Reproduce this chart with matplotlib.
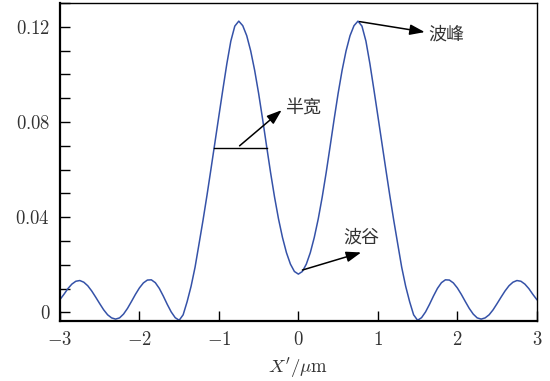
import numpy as np
import matplotlib.pyplot as plt
from matplotlib.ticker import MultipleLocator

plt.rcParams['mathtext.fontset'] = 'cm'
plt.rcParams['font.family'] = ['cmr10', 'DejaVu Serif']
plt.rcParams['axes.unicode_minus'] = False

# curve, x from -3 to 3 in steps of 0.05
x = np.linspace(-3, 3, 121)
y = [0.0054, 0.0076, 0.0100, 0.0119, 0.0131,
     0.0134, 0.0127, 0.0112, 0.0090, 0.0064, 0.0037, 0.0011, -0.0010, -0.0023,
     -0.0028, -0.0023, -0.0007, 0.0017, 0.0046, 0.0076, 0.0103, 0.0124, 0.0136,
     0.0137, 0.0125, 0.0101, 0.0069, 0.0034, 0.0002, -0.0022,
     -0.0033, -0.0010, 0.0045, 0.0110, 0.0190, 0.0288, 0.0387, 0.0492, 0.0602,
     0.0714, 0.0826, 0.0937, 0.1045, 0.1140, 0.1203,
     0.1224, 0.1205, 0.1163, 0.1099, 0.1017, 0.0920, 0.0812, 0.0699, 0.0588,
     0.0485, 0.0393, 0.0315, 0.0251, 0.0203, 0.0172,
     0.0161,
     0.0172, 0.0203, 0.0251, 0.0315, 0.0393, 0.0485, 0.0588, 0.0699, 0.0812,
     0.0920, 0.1017, 0.1099, 0.1163, 0.1205, 0.1224,
     0.1203, 0.1140, 0.1045, 0.0937, 0.0826, 0.0714, 0.0602, 0.0492, 0.0387,
     0.0288, 0.0190, 0.0110, 0.0045, -0.0010, -0.0033,
     -0.0022, 0.0002, 0.0034, 0.0069, 0.0101, 0.0125, 0.0137,
     0.0136, 0.0124, 0.0103, 0.0076, 0.0046, 0.0017, -0.0007, -0.0023, -0.0028,
     -0.0023, -0.0010, 0.0011, 0.0037, 0.0064, 0.0090, 0.0112, 0.0127, 0.0134,
     0.0131, 0.0119, 0.0100, 0.0076, 0.0054]

xticks = [-3, -2, -1, 0, 1, 2, 3]
xlabels = ['$-3$', '$-2$', '$-1$', '$0$', '$1$', '$2$', '$3$']
yticks = [0, 0.04, 0.08, 0.12]
ylabels = ['$0$', '$0.04$', '$0.08$', '$0.12$']

# half width bar and annotation spots
fwhm_x = [-1.063, -0.395]
fwhm_y = 0.069

fig = plt.figure(figsize=(5.5, 3.81), dpi=100)
ax = fig.add_axes([0.109, 0.1575, 0.867, 0.8345])

ax.plot(x, y, color='#3552a8', lw=1.1)
ax.plot(fwhm_x, [fwhm_y, fwhm_y], color='k', lw=1.0)

arrow = dict(arrowstyle='-|>,head_length=0.9,head_width=0.32', color='k',
             lw=1.1, shrinkA=0, shrinkB=0)
cjk = ['Noto Sans CJK SC']
tc = '#333333'
ax.annotate('', xy=(-0.21, 0.085), xytext=(-0.74, 0.0700), arrowprops=arrow)
ax.text(-0.17, 0.0855, '半宽', family=cjk, fontsize=13, va='center', color=tc)
ax.annotate('', xy=(1.59, 0.1178), xytext=(0.77, 0.1222), arrowprops=arrow)
ax.text(1.63, 0.1167, '波峰', family=cjk, fontsize=13, va='center', color=tc)
ax.annotate('', xy=(0.79, 0.0252), xytext=(0.05, 0.0178), arrowprops=arrow)
ax.text(0.56, 0.0313, '波谷', family=cjk, fontsize=13, va='center', color=tc)

ax.set_xlim(-3, 3)
ax.set_ylim(-0.0036, 0.130)
ax.set_xticks(xticks, labels=xlabels)
ax.set_yticks(yticks, labels=ylabels)
ax.yaxis.set_minor_locator(MultipleLocator(0.01))
ax.tick_params(direction='in', length=7, width=1.0, labelsize=13.5, pad=7,
               colors='k', labelcolor=tc)
ax.tick_params(axis='y', which='minor', direction='in', length=7, width=1.0)
ax.tick_params(top=False, right=False)

ax.spines['left'].set_linewidth(1.6)
ax.spines['bottom'].set_linewidth(1.6)
ax.spines['top'].set_linewidth(1.0)
ax.spines['right'].set_linewidth(1.0)

ax.set_xlabel(r"$X'/\mathrm{\mu m}$", fontsize=13.5, color=tc, labelpad=5)

fig.savefig('out.png', dpi=100)
